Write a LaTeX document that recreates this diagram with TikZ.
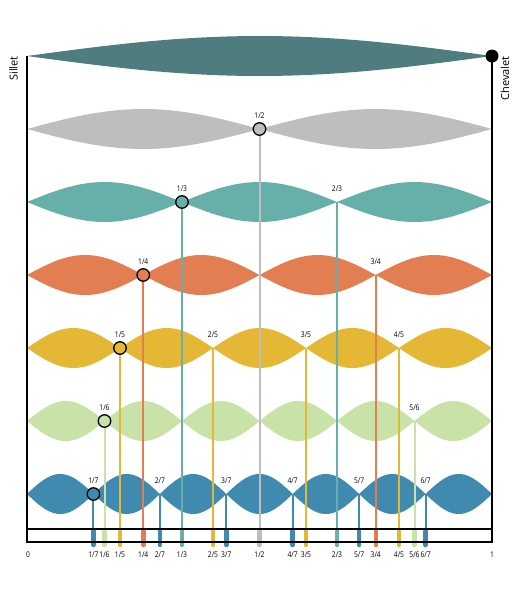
\documentclass[tikz,border=0pt]{standalone}
\usepackage{fontspec}
\setmainfont{Open Sans}
\newfontfamily\fracfont[FakeStretch=0.85]{Open Sans}
\definecolor{rowA}{HTML}{4F7D7F}
\definecolor{rowB}{HTML}{BEBEBE}
\definecolor{rowC}{HTML}{66B0A9}
\definecolor{rowD}{HTML}{E27E52}
\definecolor{rowE}{HTML}{E4B835}
\definecolor{rowF}{HTML}{C9E2A8}
\definecolor{rowG}{HTML}{3F8AAE}
\begin{document}
\begin{tikzpicture}[x=1pt, y=-1pt, every node/.style={font=\fracfont\fontsize{7.9}{9}\selectfont,
  inner sep=1pt}, knot/.style={circle, draw=black, line width=1.3pt, minimum
  size=12.5pt, inner sep=0pt}, frame/.style={line width=1.6pt}, side/.style={rotate=90,
  anchor=east, font=\fontsize{11}{13}\selectfont} ]
\useasboundingbox (0,0) rectangle (518,590);

% Lobes of each harmonic
\foreach \n/\col in {1/rowA,2/rowB,3/rowC,4/rowD,5/rowE,6/rowF,7/rowG} {
  \pgfmathsetmacro{\yc}{56+73*(\n-1)} \pgfmathtruncatemacro{\m}{\n-1}
  \foreach \k in {0,...,\m} { \fill[\col] plot[domain=0:180, samples=40]
    ({27+465*(\k+\x/180)/\n},{\yc-20*sin(\x)}) -- plot[domain=180:0, samples=40]
    ({27+465*(\k+\x/180)/\n},{\yc+20*sin(\x)}) -- cycle; } }

% Nodes -> bottom scale
\foreach \n/\col in {2/rowB,3/rowC,4/rowD,5/rowE,6/rowF,7/rowG} {
  \pgfmathsetmacro{\yc}{56+73*(\n-1)} \pgfmathtruncatemacro{\m}{\n-1}
  \foreach \k in {1,...,\m} { \pgfmathtruncatemacro{\g}{gcd(\k,\n)}
    \pgfmathsetmacro{\xk}{27+465*\k/\n}
    \ifnum\g=1
      \coordinate (N\n-\k) at (\xk,\yc); \coordinate (T\n-\k) at (\xk,531);
      \coordinate (B\n-\k) at (\xk,545);
      \draw[\col, line width=2pt] (N\n-\k) -- (B\n-\k);
      \draw[\col, line width=4.5pt, line cap=round] (T\n-\k) -- (B\n-\k);
      \node (L\n-\k) at (\xk,\yc-13) {\k/\n};
      \node (F\n-\k) at (\xk,555) {\k/\n};
    \fi } }

% First node of each harmonic
\foreach \n/\col in {2/rowB,3/rowC,4/rowD,5/rowE,6/rowF,7/rowG} \node[knot,
  fill=\col] (K\n) at (N\n-1) {};

% Frame
\coordinate (sillet) at (27,56); \coordinate (chevalet) at (492,56);
\coordinate (S0) at (27,542); \coordinate (S1) at (492,542);
\coordinate (R0) at (27,529); \coordinate (R1) at (492,529);
\draw[frame] (sillet) -- (S0) -- (S1) -- (chevalet);
\draw[frame] (R0) -- (R1);
\node[circle, fill=black, minimum size=13pt, inner sep=0pt] (bridge) at (chevalet) {};
\node (F0) at (28,555) {0}; \node (F1) at (492,555) {1};
\node[side] (lsillet) at (13.5,55) {Sillet};
\node[side] (lchevalet) at (505,55) {Chevalet};

\end{tikzpicture}
\end{document}
